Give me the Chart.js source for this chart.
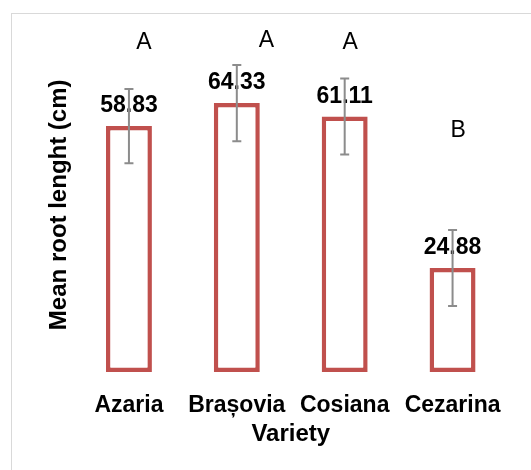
<!DOCTYPE html>
<html>
<head>
<meta charset="utf-8">
<script src="https://cdn.jsdelivr.net/npm/chart.js@4/dist/chart.umd.min.js"></script>
<style>
  html, body { margin: 0; padding: 0; background: #fff; }
  #wrap { position: relative; width: 531px; height: 470px; }
</style>
</head>
<body>
<div id="wrap"><canvas id="chart" width="531" height="470"></canvas></div>
<script>
// Root length by variety
const categories = ['Azaria', 'Brașovia', 'Cosiana', 'Cezarina'];
const meanLength = [58.83, 64.33, 61.11, 24.88];
const errorSD = [8.9, 9.1, 9.1, 9.1];
const groupLetters = ['A', 'A', 'A', 'B'];

const FONT = "'Liberation Sans', Arial, sans-serif";

// Frame around the figure
const framePlugin = {
  id: 'frame',
  beforeDraw(chart) {
    const ctx = chart.ctx;
    ctx.save();
    ctx.fillStyle = '#ffffff';
    ctx.fillRect(0, 0, chart.width, chart.height);
    ctx.strokeStyle = '#d9d9d9';
    ctx.lineWidth = 1;
    ctx.strokeRect(11.5, 13.5, chart.width + 20, chart.height + 20);
    ctx.restore();
  }
};

// Value labels, error bars and significance letters
const annotatePlugin = {
  id: 'annotate',
  afterDatasetsDraw(chart, args, opts) {
    const ctx = chart.ctx;
    const y = chart.scales.y;
    const meta = chart.getDatasetMeta(0);
    ctx.save();
    // value labels
    ctx.fillStyle = '#000';
    ctx.font = 'bold 23px ' + FONT;
    ctx.textAlign = 'center';
    ctx.textBaseline = 'alphabetic';
    meta.data.forEach((bar, i) => {
      ctx.fillText(meanLength[i].toFixed(2), bar.x, bar.y - 14);
    });
    // error bars
    ctx.strokeStyle = '#8c8c8c';
    ctx.lineWidth = 2;
    meta.data.forEach((bar, i) => {
      const top = y.getPixelForValue(meanLength[i] + errorSD[i]);
      const bot = y.getPixelForValue(meanLength[i] - errorSD[i]);
      ctx.beginPath();
      ctx.moveTo(bar.x, top); ctx.lineTo(bar.x, bot);
      ctx.moveTo(bar.x - 4.5, top); ctx.lineTo(bar.x + 4.5, top);
      ctx.moveTo(bar.x - 4.5, bot); ctx.lineTo(bar.x + 4.5, bot);
      ctx.stroke();
    });
    // significance letters
    ctx.fillStyle = '#000';
    ctx.font = '23px ' + FONT;
    meta.data.forEach((bar, i) => {
      ctx.fillText(groupLetters[i], bar.x + opts.dx[i], y.getPixelForValue(opts.level[i]));
    });
    ctx.restore();
  }
};

new Chart(document.getElementById('chart'), {
  type: 'bar',
  data: {
    labels: categories,
    datasets: [{
      data: meanLength,
      backgroundColor: '#ffffff',
      borderColor: '#c0504d',
      borderWidth: 4.5,
      borderSkipped: false,
      categoryPercentage: 1,
      barPercentage: 0.426
    }]
  },
  options: {
    responsive: false,
    devicePixelRatio: 1,
    animation: false,
    layout: { padding: { left: 0, right: 24.5, top: 37.6, bottom: 0 } },
    plugins: {
      legend: { display: false },
      tooltip: { enabled: false },
      annotate: {
        dx: [15, 29.5, 5.5, 5.5],
        level: [77.3, 77.75, 77.3, 56.2]
      }
    },
    scales: {
      x: {
        grid: { display: false },
        border: { display: false },
        ticks: { color: '#000', padding: 12, font: { family: FONT, size: 23, weight: 'bold' } },
        title: { display: true, text: 'Variety', color: '#000', padding: { top: 0, bottom: 21 }, font: { family: FONT, size: 24, weight: 'bold' } },
        afterFit(scale) { scale.height = 98; }
      },
      y: {
        min: 0,
        max: 80,
        grid: { display: false },
        border: { display: false },
        ticks: { display: false },
        title: { display: true, text: 'Mean root lenght (cm)', color: '#000', padding: { top: 45, bottom: 0 }, font: { family: FONT, size: 24, weight: 'bold' } },
        afterFit(scale) { scale.width = 75; }
      }
    }
  },
  plugins: [framePlugin, annotatePlugin]
});
</script>
</body>
</html>
